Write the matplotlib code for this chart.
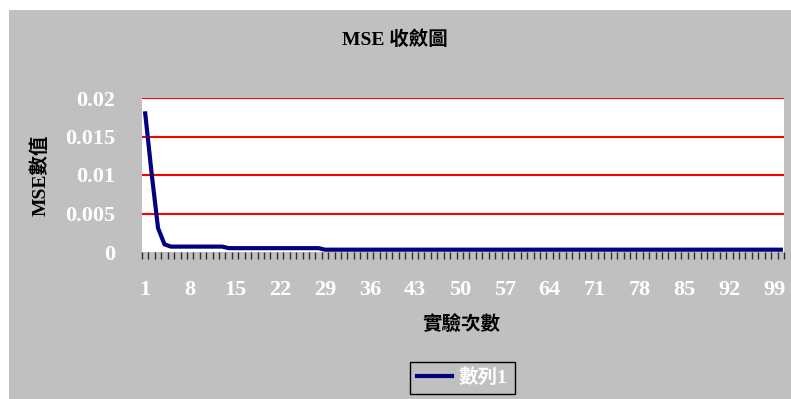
import matplotlib
matplotlib.use("Agg")
import matplotlib.pyplot as plt
from matplotlib.patches import Rectangle
from matplotlib.ticker import FixedLocator, NullFormatter

# MSE per experiment run (runs 1..100)
runs = list(range(1, 101))
mse = [
    0.0180, 0.0102, 0.0031, 0.0010, 0.0007, 0.0007, 0.0007, 0.0007, 0.0007, 0.0007,
    0.0007, 0.0007, 0.0007, 0.0005, 0.0005, 0.0005, 0.0005, 0.0005, 0.0005, 0.0005,
    0.0005, 0.0005, 0.0005, 0.0005, 0.0005, 0.0005, 0.0005, 0.0005, 0.0003, 0.0003,
    0.0003, 0.0003, 0.0003, 0.0003, 0.0003, 0.0003, 0.0003, 0.0003, 0.0003, 0.0003,
    0.0003, 0.0003, 0.0003, 0.0003, 0.0003, 0.0003, 0.0003, 0.0003, 0.0003, 0.0003,
    0.0003, 0.0003, 0.0003, 0.0003, 0.0003, 0.0003, 0.0003, 0.0003, 0.0003, 0.0003,
    0.0003, 0.0003, 0.0003, 0.0003, 0.0003, 0.0003, 0.0003, 0.0003, 0.0003, 0.0003,
    0.0003, 0.0003, 0.0003, 0.0003, 0.0003, 0.0003, 0.0003, 0.0003, 0.0003, 0.0003,
    0.0003, 0.0003, 0.0003, 0.0003, 0.0003, 0.0003, 0.0003, 0.0003, 0.0003, 0.0003,
    0.0003, 0.0003, 0.0003, 0.0003, 0.0003, 0.0003, 0.0003, 0.0003, 0.0003, 0.0003,
]
x_ticks = [1, 8, 15, 22, 29, 36, 43, 50, 57, 64, 71, 78, 85, 92, 99]
y_ticks = [0, 0.005, 0.01, 0.015, 0.02]
y_tick_labels = ["0", "0.005", "0.01", "0.015", "0.02"]
series_name = "數列1"
title = "MSE 收斂圖"
x_label = "實驗次數"
y_label = "MSE數值"

FONT = ["Liberation Serif", "Noto Sans CJK TC", "DejaVu Sans"]
plt.rcParams["font.family"] = FONT

W, H = 791, 399
fig = plt.figure(figsize=(W / 100, H / 100), dpi=100, facecolor="white")

# gray chart background
fig.patches.append(Rectangle((9 / W, 0), 1 - 9 / W, 1 - 10 / H,
                             transform=fig.transFigure, facecolor="#c0c0c0",
                             edgecolor="none", zorder=-5))

left, right, top, bottom = 142, 784, 98, 252
ax = fig.add_axes([left / W, 1 - bottom / H, (right - left) / W, (bottom - top) / H])
ax.set_zorder(2)
ax.set_facecolor("white")

ax.plot(runs, mse, color="#000080", linewidth=3, solid_joinstyle="round",
        label=series_name, zorder=3)

ax.set_xlim(0.5, 100.5)
ax.set_ylim(0, 0.02)

for v in y_ticks[1:]:
    ax.axhline(v, color="#ff0000", linewidth=1.5, zorder=1)

for s in ax.spines.values():
    s.set_visible(False)

ax.set_xticks(x_ticks)
ax.set_xticklabels([str(t) for t in x_ticks])
ax.xaxis.set_minor_locator(FixedLocator([i + 0.5 for i in range(0, 101)]))
ax.xaxis.set_minor_formatter(NullFormatter())
ax.tick_params(axis="x", which="major", length=0, pad=20, labelsize=16,
               labelcolor="white")
ax.tick_params(axis="x", which="minor", length=5, width=1, color="#303030",
               direction="out")

ax.set_yticks(y_ticks)
ax.set_yticklabels(y_tick_labels)
ax.tick_params(axis="y", length=0, pad=19, labelsize=16, labelcolor="white")
for lab in ax.get_xticklabels() + ax.get_yticklabels():
    lab.set_fontweight("bold")

fig.text(395 / W, 1 - 40 / H, title, ha="center", va="center",
         fontsize=14, fontweight="bold", color="black")
fig.text(461 / W, 1 - 325 / H, x_label, ha="center", va="center",
         fontsize=14, fontweight="bold", color="black")
fig.text(40 / W, 1 - 175 / H, y_label, ha="center", va="center", rotation=90,
         fontsize=14, fontweight="bold", color="black")

leg = fig.legend(loc="center", bbox_to_anchor=(462.5 / W, 1 - 378 / H),
                 frameon=True, fancybox=False, fontsize=14,
                 handlelength=1.8, borderpad=0.35, handletextpad=0.35,
                 borderaxespad=0)
leg.get_frame().set_facecolor("#c0c0c0")
leg.get_frame().set_edgecolor("black")
leg.get_frame().set_linewidth(1.0)
leg.get_frame().set_alpha(1)
for t in leg.get_texts():
    t.set_color("white")
    t.set_fontweight("bold")

fig.savefig("out.png", dpi=100, facecolor="white")
